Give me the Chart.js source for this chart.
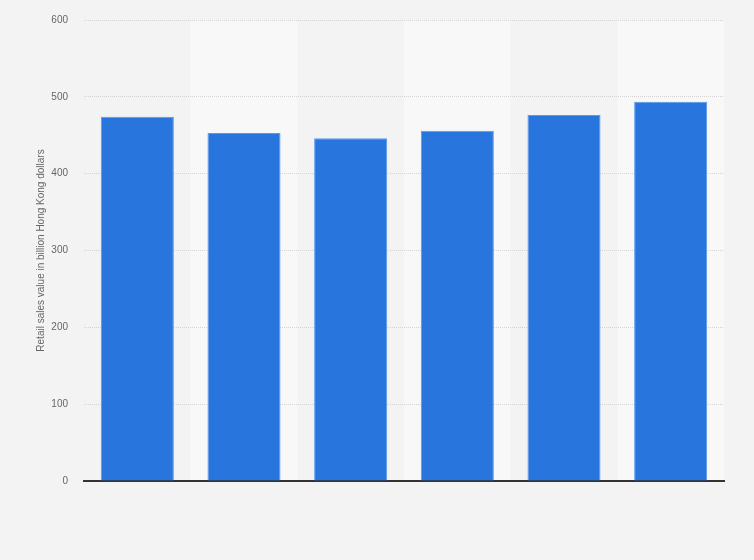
<!DOCTYPE html>
<html>
<head>
<meta charset="utf-8">
<script src="https://cdn.jsdelivr.net/npm/chart.js@4/dist/chart.umd.min.js"></script>
<style>
    html, body { margin: 0; padding: 0; background: #f3f3f3; }
    #wrap { width: 754px; height: 560px; }
</style>
</head>
<body>
<div id="wrap"><canvas id="retailChart" width="754" height="560"></canvas></div>
<script>
// six bars, the picture shows no category labels
const categories = ['', '', '', '', '', ''];
const retailSales = [474, 453, 446, 456, 476.5, 493.5];
const yTicks = [0, 100, 200, 300, 400, 500, 600];

// lighter band behind every second column, drawn before the grid
const columnBands = {
    id: 'columnBands',
    beforeDraw(chart) {
        const { ctx, chartArea, scales } = chart;
        const x = scales.x;
        const half = (chartArea.right - chartArea.left) / categories.length / 2;
        ctx.save();
        ctx.fillStyle = '#f8f8f8';
        categories.forEach((c, i) => {
            if (i % 2 === 1) {
                const cx = x.getPixelForValue(i);
                ctx.fillRect(cx - half, chartArea.top, half * 2, chartArea.bottom - chartArea.top);
            }
        });
        ctx.restore();
    }
};

const ctx = document.getElementById('retailChart').getContext('2d');
new Chart(ctx, {
    type: 'bar',
    data: {
        labels: categories,
        datasets: [{
            data: retailSales,
            backgroundColor: '#2876dd',
            borderColor: '#5b98e8',
            borderWidth: 1,
            barPercentage: 0.685,
            categoryPercentage: 1
        }]
    },
    options: {
        responsive: false,
        devicePixelRatio: 1,
        animation: false,
        layout: {
            padding: { top: 20, right: 30, bottom: 0, left: 0 }
        },
        plugins: {
            legend: { display: false },
            tooltip: { enabled: false }
        },
        scales: {
            x: {
                ticks: { display: false },
                grid: { display: false, drawTicks: false },
                border: { display: true, color: '#333333', width: 2 },
                afterFit: scale => { scale.height = 79; }
            },
            y: {
                min: 0,
                max: 600,
                afterBuildTicks: scale => {
                    scale.ticks = yTicks.map(v => ({ value: v }));
                },
                afterFit: scale => {
                    scale.width = 84;
                    // tick padding would otherwise push the plot top down
                    scale.paddingTop = 0;
                    scale.paddingBottom = 0;
                },
                ticks: {
                    padding: 16,
                    color: '#666666',
                    font: { family: 'Liberation Sans, Arial, sans-serif', size: 10 }
                },
                grid: {
                    drawTicks: false,
                    color: ctx => ctx.tick && ctx.tick.value === 0 ? 'rgba(0,0,0,0)' : '#d4d4d4',
                    lineWidth: 1
                },
                border: { display: false, dash: [1, 1] },
                title: {
                    display: true,
                    text: 'Retail sales value in billion Hong Kong dollars',
                    color: '#666666',
                    font: { family: 'Liberation Sans, Arial, sans-serif', size: 10 },
                    padding: { top: 35, bottom: 0 }
                }
            }
        }
    },
    plugins: [columnBands]
});
</script>
</body>
</html>
